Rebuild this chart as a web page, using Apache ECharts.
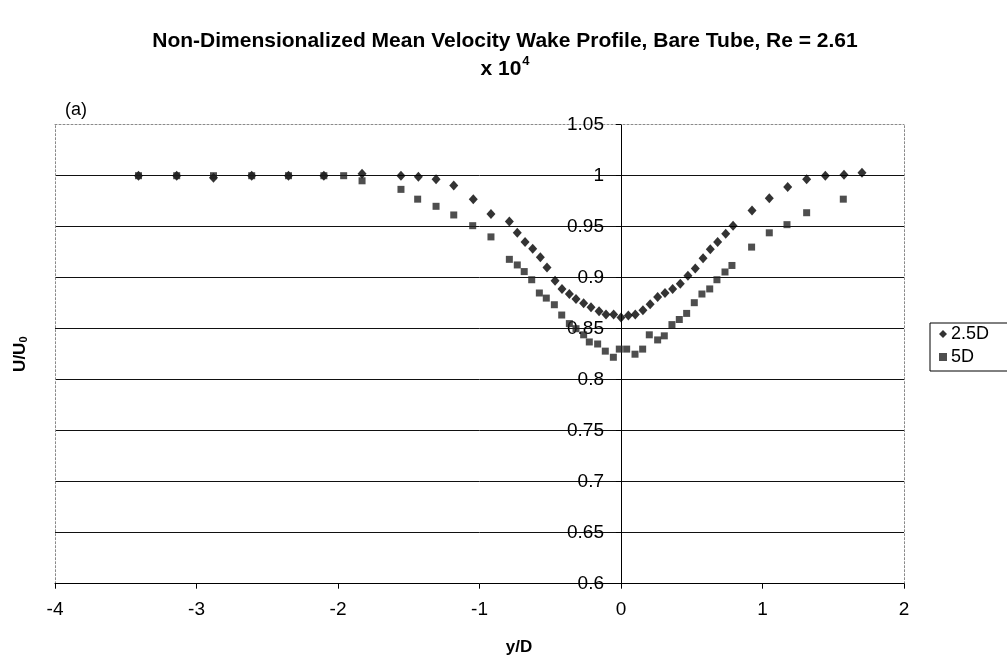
<!DOCTYPE html>
<html>
<head>
<meta charset="utf-8">
<script src="https://cdn.jsdelivr.net/npm/echarts@6/dist/echarts.min.js"></script>
<style>html,body{margin:0;padding:0;background:#fff;}#c{width:1007px;height:666px;}</style>
</head>
<body>
<div id="c"></div>
<script>
// Series 2.5D
var x25 = [-3.41,-3.14,-2.88,-2.61,-2.35,-2.10,-1.83,-1.555,-1.432,-1.307,-1.182,-1.044,-0.919,-0.789,-0.733,-0.678,-0.624,-0.570,-0.523,-0.466,-0.417,-0.365,-0.318,-0.264,-0.212,-0.155,-0.106,-0.052,0,0.052,0.101,0.155,0.206,0.259,0.311,0.365,0.419,0.473,0.525,0.580,0.631,0.683,0.740,0.792,0.926,1.048,1.178,1.312,1.444,1.576,1.703];
var y25 = [1.0,1.0,0.998,1.0,1.0,1.0,1.002,1.0,0.999,0.9965,0.9905,0.977,0.9625,0.955,0.944,0.935,0.9285,0.920,0.910,0.897,0.889,0.884,0.879,0.875,0.871,0.867,0.864,0.864,0.861,0.863,0.864,0.868,0.874,0.881,0.885,0.889,0.894,0.902,0.909,0.919,0.928,0.935,0.943,0.951,0.966,0.978,0.989,0.9965,1.0,1.001,1.003];
// Series 5D
var x5 = [-3.41,-3.14,-2.88,-2.61,-2.35,-2.10,-1.96,-1.83,-1.555,-1.437,-1.307,-1.182,-1.048,-0.919,-0.789,-0.733,-0.684,-0.631,-0.577,-0.528,-0.471,-0.419,-0.365,-0.318,-0.264,-0.224,-0.165,-0.111,-0.054,-0.012,0.040,0.099,0.153,0.200,0.259,0.306,0.360,0.412,0.464,0.518,0.572,0.627,0.678,0.735,0.784,0.923,1.048,1.173,1.312,1.571];
var y5 = [1.0,1.0,1.0,1.0,1.0,1.0,1.0,0.995,0.9866,0.977,0.970,0.9615,0.951,0.940,0.918,0.9125,0.906,0.898,0.885,0.880,0.8735,0.8634,0.855,0.850,0.844,0.837,0.835,0.828,0.822,0.830,0.830,0.825,0.830,0.844,0.839,0.843,0.854,0.859,0.865,0.8755,0.884,0.889,0.898,0.9056,0.912,0.930,0.944,0.952,0.9637,0.977];
var seriesNames = ['2.5D', '5D'];
var xMin = -4, xMax = 2, xStep = 1;
var yMin = 0.6, yMax = 1.05, yStep = 0.05;

function zip(a, b) { return a.map(function (v, i) { return [v, b[i]]; }); }

var FONT = "'Liberation Sans', Arial, sans-serif";
var W = 1007, H = 666;
var gridL = 55, gridR = 103, gridT = 124.7, gridB = 82.3;
var plotW = W - gridL - gridR;
// y axis crosses at x = 0
var yAxisOffset = -plotW * (0 - xMin) / (xMax - xMin);

var chart = echarts.init(document.getElementById('c'), null, { renderer: 'canvas' });
var dotted = { color: '#8a8a8a', type: [2, 2], width: 1 };

chart.setOption({
  animation: false,
  backgroundColor: '#fff',
  textStyle: { fontFamily: FONT },
  title: [
    {
      text: 'Non-Dimensionalized Mean Velocity Wake Profile, Bare Tube, Re = 2.61\n{m|x 10}{s|4}',
      left: 500, top: 22, textAlign: 'center',
      textStyle: {
        fontFamily: FONT, fontSize: 21, fontWeight: 'bold', color: '#000', lineHeight: 28,
        rich: {
          m: { fontFamily: FONT, fontSize: 21, fontWeight: 'bold', color: '#000', lineHeight: 28 },
          s: { fontFamily: FONT, fontSize: 13, fontWeight: 'bold', color: '#000', verticalAlign: 'top', padding: [0, 0, 12, 1] }
        }
      }
    },
    { text: '(a)', left: 60, top: 96, textStyle: { fontFamily: FONT, fontSize: 18, fontWeight: 'normal', color: '#000' } },
    { text: 'y/D', left: 514, top: 634, textAlign: 'center', textStyle: { fontFamily: FONT, fontSize: 17, fontWeight: 'bold', color: '#000' } }
  ],
  legend: {
    orient: 'vertical', left: 930, top: 323,
    data: [{ name: seriesNames[0], icon: 'diamond' }, { name: seriesNames[1], icon: 'rect' }],
    itemWidth: 8, itemHeight: 8, itemGap: 5,
    borderColor: '#000', borderWidth: 1, borderRadius: 0,
    padding: [2, 20, 5, 9],
    textStyle: { fontFamily: FONT, fontSize: 18, color: '#000', padding: [0, 0, 0, -1] }
  },
  grid: { left: gridL, right: gridR, top: gridT, bottom: gridB, containLabel: false },
  xAxis: [
    {
      type: 'value', min: xMin, max: xMax, interval: xStep,
      axisLine: { onZero: false, lineStyle: { color: '#000', width: 1 } },
      axisTick: { show: true, inside: false, length: 5, lineStyle: { color: '#000' } },
      axisLabel: { fontFamily: FONT, fontSize: 19, color: '#000', margin: 17 },
      splitLine: { show: false }
    },
    {
      type: 'value', position: 'top', min: xMin, max: xMax,
      axisLine: { show: true, onZero: false, lineStyle: dotted },
      axisTick: { show: false }, axisLabel: { show: false }, splitLine: { show: false }
    }
  ],
  yAxis: [
    {
      type: 'value', min: yMin, max: yMax, interval: yStep,
      position: 'left', offset: yAxisOffset,
      axisLine: { show: true, onZero: false, lineStyle: { color: '#000', width: 1 } },
      axisTick: { show: true, inside: false, length: 5, lineStyle: { color: '#000' } },
      axisLabel: {
        fontFamily: FONT, fontSize: 19, color: '#000', margin: 17, showMinLabel: true, showMaxLabel: true,
        formatter: function (v) { return String(parseFloat(v.toFixed(2))); }
      },
      splitLine: { show: true, showMaxLine: false, showMinLine: false, lineStyle: { color: '#111', width: 1 } }
    },
    {
      type: 'value', position: 'left', min: yMin, max: yMax,
      name: '{a|U/U}{b|0}', nameLocation: 'middle', nameGap: 26, nameRotate: 90,
      nameTextStyle: {
        rich: {
          a: { fontFamily: FONT, fontSize: 17, fontWeight: 'bold', color: '#000' },
          b: { fontFamily: FONT, fontSize: 11, fontWeight: 'bold', color: '#000', verticalAlign: 'bottom', padding: [7, 0, 0, 0] }
        }
      },
      axisLine: { show: true, onZero: false, lineStyle: dotted },
      axisTick: { show: false }, axisLabel: { show: false }, splitLine: { show: false }
    },
    {
      type: 'value', position: 'right', min: yMin, max: yMax,
      axisLine: { show: true, onZero: false, lineStyle: dotted },
      axisTick: { show: false }, axisLabel: { show: false }, splitLine: { show: false }
    }
  ],
  series: [
    {
      name: seriesNames[0], type: 'scatter', xAxisIndex: 0, yAxisIndex: 0,
      symbol: 'diamond', symbolSize: [9, 10],
      itemStyle: { color: '#000' },
      data: zip(x25, y25), z: 3
    },
    {
      name: seriesNames[1], type: 'scatter', xAxisIndex: 0, yAxisIndex: 0,
      symbol: 'rect', symbolSize: 7,
      itemStyle: { color: '#222' },
      data: zip(x5, y5), z: 3
    }
  ]
});
</script>
</body>
</html>
